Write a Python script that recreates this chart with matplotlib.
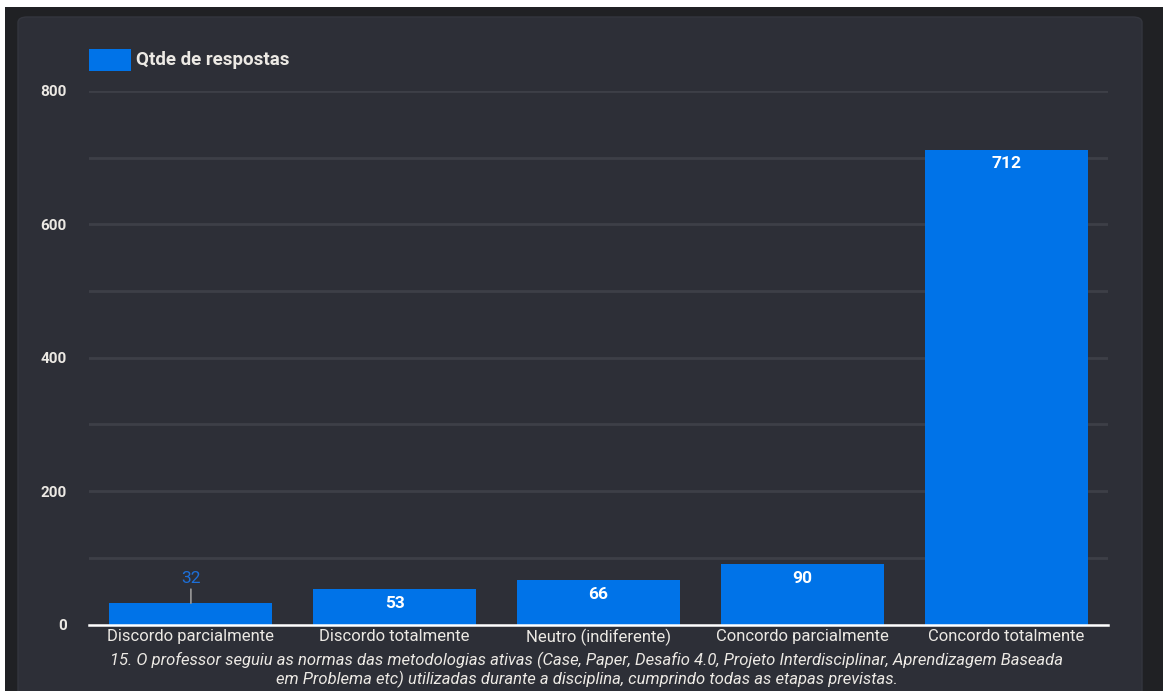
import matplotlib.pyplot as plt
from matplotlib.patches import FancyBboxPatch, Rectangle

# data
categories = ['Discordo parcialmente', 'Discordo totalmente', 'Neutro (indiferente)',
              'Concordo parcialmente', 'Concordo totalmente']
respostas = [32, 53, 66, 90, 712]
yticks = [0, 200, 400, 600, 800]
series_name = 'Qtde de respostas'
caption = ('15. O professor seguiu as normas das metodologias ativas (Case, Paper, Desafio 4.0, '
           'Projeto Interdisciplinar, Aprendizagem Baseada\nem Problema etc) utilizadas durante '
           'a disciplina, cumprindo todas as etapas previstas.')

BAR = '#0073e8'
PANEL = '#2d2f37'
OUTER = '#202124'
GRID = '#3d3f47'
TXT = '#ece9e4'
FONT = ['Roboto', 'DejaVu Sans']

W, H = 1163, 691
fig = plt.figure(figsize=(W / 100, H / 100), dpi=100, facecolor='white')

def fx(px):
    return px / W

def fy(py):
    return 1 - py / H

# outer dark background and rounded panel
fig.patches.append(Rectangle((fx(5), 0), 1, fy(7), transform=fig.transFigure,
                             facecolor=OUTER, edgecolor='none', zorder=-3))
fig.patches.append(FancyBboxPatch((fx(18), -0.05), fx(1142) - fx(18), fy(17) + 0.05,
                                  boxstyle='round,pad=0,rounding_size=0.008',
                                  transform=fig.transFigure, facecolor=PANEL,
                                  edgecolor='#34363e', linewidth=1, zorder=-2))

ax = fig.add_axes([fx(89), fy(624.5), fx(1108) - fx(89), fy(91) - fy(624.5)])
ax.set_facecolor('none')
x = list(range(len(categories)))
ax.bar(x, respostas, width=0.8, color=BAR, zorder=3)
ax.set_xlim(-0.5, len(categories) - 0.5)
ax.set_ylim(0, 800)
ax.set_yticks(yticks)
ax.set_yticks(range(100, 800, 100), minor=True)
ax.grid(axis='y', which='both', color=GRID, linewidth=2)
ax.set_axisbelow(True)
for s in ['top', 'right', 'left']:
    ax.spines[s].set_visible(False)
ax.spines['bottom'].set_color('white')
ax.spines['bottom'].set_linewidth(1.8)
ax.spines['bottom'].set_zorder(4)
ax.tick_params(axis='both', which='both', length=0)
ax.tick_params(axis='y', pad=16)
ax.tick_params(axis='x', pad=3)
ax.set_xticks(x)
ax.set_xticklabels(categories, family=FONT, fontsize=12, color=TXT)
for lab in ax.get_yticklabels():
    lab.set_family(FONT)
    lab.set_fontsize(11)
    lab.set_fontweight('bold')
    lab.set_color(TXT)

# value labels
for xi, v in zip(x, respostas):
    if v < 45:
        ax.annotate(str(v), xy=(xi, v), xytext=(0, 17.5), textcoords='offset points',
                    ha='center', va='center', fontsize=12.5, color='#1d6fd8', family=FONT,
                    arrowprops=dict(arrowstyle='-', color='#9a9a9a', lw=1.2,
                                    shrinkA=0, shrinkB=0))
    else:
        ax.annotate(str(v), xy=(xi, v), xytext=(0, -10), textcoords='offset points',
                    ha='center', va='center', fontsize=12.5, color='white',
                    fontweight='bold', family=FONT)

# legend
fig.patches.append(Rectangle((fx(89), fy(71)), fx(131) - fx(89), fy(49) - fy(71),
                             transform=fig.transFigure, facecolor=BAR, edgecolor='none'))
fig.text(fx(136), fy(60), series_name, family=FONT, fontsize=13.5, fontweight='bold',
         color=TXT, va='center', ha='left')

fig.text(fx(587), fy(670), caption, family=FONT, fontsize=12, style='italic',
         color=TXT, ha='center', va='center', linespacing=1.12)

fig.savefig('out.png', dpi=100, facecolor=fig.get_facecolor())
